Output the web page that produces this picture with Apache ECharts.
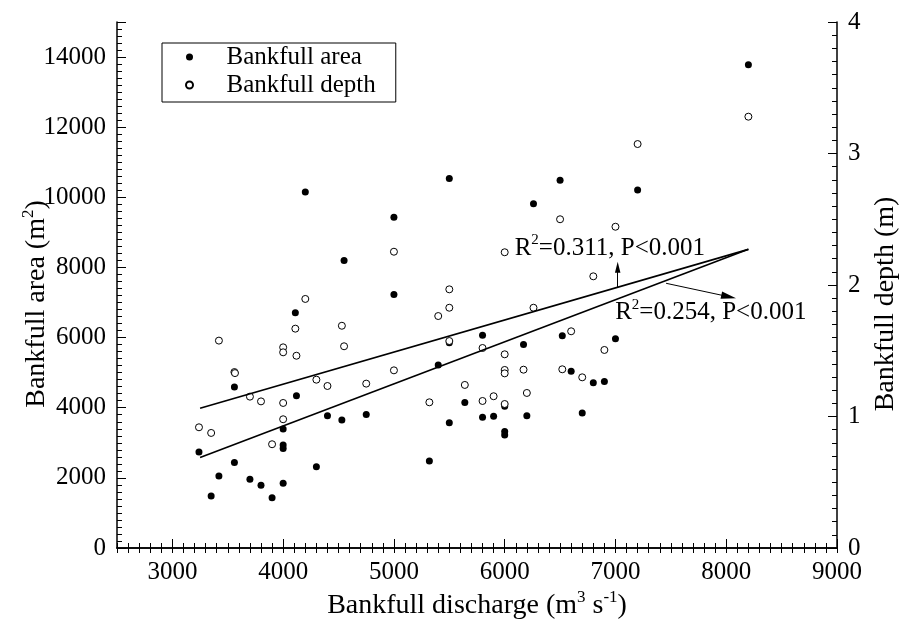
<!DOCTYPE html>
<html>
<head>
<meta charset="utf-8">
<script src="https://cdn.jsdelivr.net/npm/echarts@6/dist/echarts.min.js"></script>
<style>html,body{margin:0;padding:0;background:#fff;}#c{width:908px;height:628px;}</style>
</head>
<body>
<div id="c"></div>
<script>
// ---- data ----
const areaQ = [4200,5000,4550,5000,4110,3560,4120,4400,4530,4750,5400,4000,4000,4000,3240,3560,4300,5320,3420,3700,3800,4000,3350,3900,5500,5500,6500,7200,6260,5800,5500,6170,6520,7000,6600,6800,6900,5640,5800,5900,6000,6200,6700,6000,6000,8200];
const areaA = [10150,9430,8200,7230,6710,4590,4340,3770,3650,3810,5220,3390,2940,2840,2740,2440,2320,2480,2050,1960,1790,1850,1480,1430,3570,10540,10490,10210,9820,6070,5850,5800,6050,5970,5040,4710,4750,4150,3730,3760,4040,3770,3850,3320,3220,13780];
const depthQ = [5000,4200,4110,4530,4550,4000,4000,4120,3420,3560,3565,4300,4400,4750,5000,3700,3800,4000,4000,3240,3350,3900,5320,5400,5500,5500,5500,6500,7000,6000,6800,6260,5800,6600,6900,6000,6000,6000,6170,6520,6700,5640,6200,5800,5900,6000,7200,8200];
const depthD = [2.253,1.894,1.668,1.690,1.534,1.526,1.488,1.462,1.577,1.338,1.330,1.280,1.232,1.250,1.351,1.151,1.115,1.103,0.979,0.918,0.875,0.789,1.108,1.764,1.967,1.827,1.574,2.500,2.443,2.249,2.066,1.827,1.521,1.648,1.506,1.473,1.354,1.328,1.356,1.359,1.298,1.240,1.179,1.118,1.154,1.095,3.072,3.280];
const areaFitQ = [3250, 8200];
const areaFitA = [2580, 8520];
const depthFitQ = [3250, 8200];
const depthFitD = [1.062, 2.271];
const xTickLabels = [3000,4000,5000,6000,7000,8000,9000];
const areaTickLabels = [0,2000,4000,6000,8000,10000,12000,14000];
const depthTickLabels = [0,1,2,3,4];
const seriesNames = ['Bankfull area','Bankfull depth'];
const depthNote = {q: 7020, from: 1.985, to: 2.135, textQ: 6090, textD: 2.281, r2: '0.311', p: '0.001'};
const areaNote = {fromQ: 7457, fromA: 7549, toQ: 8022, toA: 7166, textQ: 6997, textA: 6716, r2: '0.254', p: '0.001'};

const FONT = '"Liberation Serif", "Times New Roman", serif';
const BLACK = '#000';
const ARROW = 'path://M5,0L10,20L0,20Z';
const zip = (a, b) => a.map((v, i) => [v, b[i]]);
const noteRich = {
  n: {fontFamily: FONT, fontSize: 25, lineHeight: 30, color: BLACK},
  s: {fontFamily: FONT, fontSize: 15, lineHeight: 15, color: BLACK, verticalAlign: 'top'}
};
const titleRich = {
  n: {fontFamily: FONT, fontSize: 28, lineHeight: 34, color: BLACK},
  s: {fontFamily: FONT, fontSize: 17, lineHeight: 17, color: BLACK, verticalAlign: 'top'}
};
const tickStyle = {color: BLACK, width: 1};
const SHORT = 5, LONG = 9;

const chart = echarts.init(document.getElementById('c'), null, {renderer: 'canvas'});
const option = {
  animation: false,
  backgroundColor: '#fff',
  textStyle: {fontFamily: FONT, color: BLACK},
  grid: {left: 117, right: 70, top: 22, bottom: 80, containLabel: false},
  legend: {
    data: seriesNames,
    orient: 'vertical',
    left: 162, top: 43,
    padding: [1, 20, 4, 23],
    itemGap: 2,
    itemWidth: 30, itemHeight: 7,
    borderColor: BLACK, borderWidth: 1,
    textStyle: {fontFamily: FONT, fontSize: 25, lineHeight: 26, color: BLACK, padding: [0, 0, 0, 17]}
  },
  xAxis: [
    {
      type: 'value', position: 'bottom', min: 2500, max: 9000, interval: 500,
      axisLine: {lineStyle: {color: BLACK, width: 1.5}},
      axisTick: {inside: true, length: SHORT, lineStyle: tickStyle},
      minorTick: {show: true, splitNumber: 5, length: SHORT, lineStyle: tickStyle},
      splitLine: {show: false}, minorSplitLine: {show: false},
      axisLabel: {margin: 12, fontSize: 25, fontFamily: FONT, color: BLACK,
        formatter: v => xTickLabels.indexOf(v) >= 0 ? String(v) : ''},
      name: '{n|Bankfull discharge (m}{s|3}{n| s}{s|-1}{n|)}',
      nameLocation: 'middle', nameGap: 41, nameMoveOverlap: false,
      nameTextStyle: {rich: titleRich}
    },
    {
      type: 'value', position: 'bottom', min: 2500, max: 9000,
      axisLine: {show: false},
      axisTick: {inside: true, length: LONG, lineStyle: tickStyle, customValues: xTickLabels},
      axisLabel: {show: false}, splitLine: {show: false}
    },
    {
      type: 'value', position: 'top', min: 2500, max: 9000, interval: 500,
      axisLine: {lineStyle: {color: BLACK, width: 1.5}},
      axisTick: {inside: true, length: SHORT, lineStyle: tickStyle},
      minorTick: {show: true, splitNumber: 5, length: SHORT, lineStyle: tickStyle},
      axisLabel: {show: false}, splitLine: {show: false}
    }
  ],
  yAxis: [
    {
      type: 'value', position: 'left', min: 0, max: 15000, interval: 1000,
      axisLine: {lineStyle: {color: BLACK, width: 1.5}},
      axisTick: {inside: true, length: SHORT, lineStyle: tickStyle},
      minorTick: {show: true, splitNumber: 5, length: SHORT, lineStyle: tickStyle},
      splitLine: {show: false},
      axisLabel: {margin: 11, fontSize: 25, fontFamily: FONT, color: BLACK,
        formatter: v => areaTickLabels.indexOf(v) >= 0 ? String(v) : ''},
      name: '{n|Bankfull area (m}{s|2}{n|)}',
      nameLocation: 'middle', nameGap: 63, nameRotate: 90, nameMoveOverlap: false,
      nameTextStyle: {rich: titleRich, padding: [0, 38, 0, 0]}
    },
    {
      type: 'value', position: 'right', min: 0, max: 4, interval: 1,
      axisLine: {lineStyle: {color: BLACK, width: 1.5}},
      axisTick: {inside: true, length: LONG, lineStyle: tickStyle},
      minorTick: {show: true, splitNumber: 10, length: SHORT, lineStyle: tickStyle},
      splitLine: {show: false},
      axisLabel: {margin: 11, fontSize: 25, fontFamily: FONT, color: BLACK,
        formatter: v => depthTickLabels.indexOf(v) >= 0 ? String(v) : ''},
      name: '{n|Bankfull depth (m)}',
      nameLocation: 'middle', nameGap: 32, nameRotate: 90, nameMoveOverlap: false,
      nameTextStyle: {rich: titleRich, padding: [0, 38, 0, 0]}
    },
    {
      type: 'value', position: 'left', min: 0, max: 15000, interval: 2000,
      axisLine: {show: false},
      axisTick: {inside: true, length: LONG, lineStyle: tickStyle},
      axisLabel: {show: false}, splitLine: {show: false}
    }
  ],
  series: [
    {
      name: seriesNames[0], type: 'scatter', xAxisIndex: 0, yAxisIndex: 0,
      symbol: 'circle', symbolSize: 7,
      itemStyle: {color: BLACK, opacity: 1},
      data: zip(areaQ, areaA), z: 3
    },
    {
      name: seriesNames[1], type: 'scatter', xAxisIndex: 0, yAxisIndex: 1,
      symbol: 'circle', symbolSize: 7,
      itemStyle: {color: '#fff', borderColor: BLACK, borderWidth: 1, opacity: 1},
      data: zip(depthQ, depthD), z: 3
    },
    {
      name: 'area fit', type: 'line', xAxisIndex: 0, yAxisIndex: 0,
      symbol: 'none', silent: true, z: 4,
      lineStyle: {color: BLACK, width: 1.6},
      data: zip(areaFitQ, areaFitA),
      markLine: {
        silent: true, animation: false,
        lineStyle: {color: BLACK, width: 1, type: 'solid'},
        label: {show: false},
        data: [[
          {coord: [areaNote.fromQ, areaNote.fromA], symbol: 'none'},
          {coord: [areaNote.toQ, areaNote.toA], symbol: ARROW, symbolSize: 15, symbolKeepAspect: true}
        ]]
      },
      markPoint: {
        silent: true, animation: false,
        data: [{
          coord: [areaNote.textQ, areaNote.textA], symbol: 'circle', symbolSize: 0,
          label: {show: true, position: 'right', distance: 0,
            formatter: '{n|R}{s|2}{n|=' + areaNote.r2 + ', P<' + areaNote.p + '}', rich: noteRich}
        }]
      }
    },
    {
      name: 'depth fit', type: 'line', xAxisIndex: 0, yAxisIndex: 1,
      symbol: 'none', silent: true, z: 4,
      lineStyle: {color: BLACK, width: 1.6},
      data: zip(depthFitQ, depthFitD),
      markLine: {
        silent: true, animation: false,
        lineStyle: {color: BLACK, width: 1, type: 'solid'},
        label: {show: false},
        data: [[
          {coord: [depthNote.q, depthNote.from], symbol: 'none'},
          {coord: [depthNote.q, depthNote.to], symbol: ARROW, symbolSize: 11, symbolKeepAspect: true}
        ]]
      },
      markPoint: {
        silent: true, animation: false,
        data: [{
          coord: [depthNote.textQ, depthNote.textD], symbol: 'circle', symbolSize: 0,
          label: {show: true, position: 'right', distance: 0,
            formatter: '{n|R}{s|2}{n|=' + depthNote.r2 + ', P<' + depthNote.p + '}', rich: noteRich}
        }]
      }
    }
  ]
};
chart.setOption(option);
</script>
</body>
</html>
